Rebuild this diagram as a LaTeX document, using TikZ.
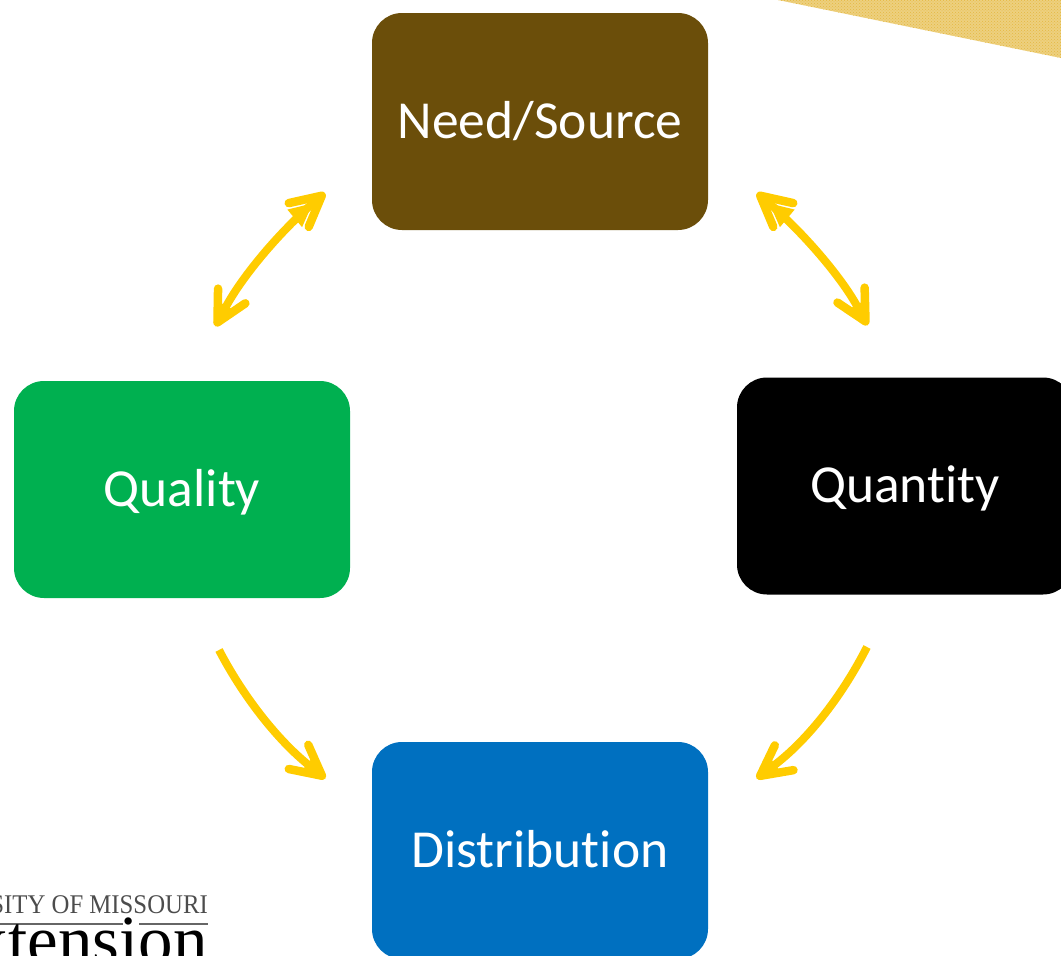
\documentclass[tikz,border=0pt]{standalone}
\usepackage{fontspec}
\setmainfont{Carlito}[Ligatures=NoCommon,Contextuals=NoAlternate]
\newfontfamily\logofont{Liberation Serif}
\usetikzlibrary{arrows.meta,patterns}
\definecolor{goldarrow}{HTML}{FFCC00}
\definecolor{needc}{HTML}{6B4E0A}
\definecolor{qualc}{HTML}{00B050}
\definecolor{distc}{HTML}{0070C0}
\definecolor{wedgea}{HTML}{EDD07F}
\definecolor{wedgeb}{HTML}{E5B840}
\tikzset{
  stagebox/.style={draw=none,rounded corners=30pt,minimum width=336pt,minimum height=217pt,inner sep=0pt,text=white,text height=33pt,text depth=0pt,font=\fontsize{53.5}{56}\selectfont},
  headstart/.tip={Triangle[length=24pt,width=21pt,sep=-23pt]Straight Barb[length=30pt,width=31pt,line width=8.5pt,round]},
  headend/.tip={Straight Barb[length=30pt,width=31pt,line width=8.5pt,round,sep=-23pt]Triangle[length=24pt,width=21pt]},
  cyclearrow/.style={draw=goldarrow,line width=8pt,{headstart}-{headend}},
  onearrow/.style={draw=goldarrow,line width=8pt,-{headend}},
}
\begin{document}
\begin{tikzpicture}[x=1pt,y=-1pt]
\useasboundingbox (0,0) rectangle (1061,956);
\begin{scope}
\clip (0,0) rectangle (1061,956);
\fill[wedgea] (778,0) -- (1061,58) -- (1061,0) -- cycle;
\fill[pattern=crosshatch dots,pattern color=wedgeb] (778,0) -- (1061,58) -- (1061,0) -- cycle;
\node[stagebox,fill=needc] (need) at (540,121.5) {Need/Source};
\node[stagebox,fill=qualc] (qual) at (182,489.5) {Quality};
\node[stagebox,fill=black] (quan) at (905,486) {Quantity};
\node[stagebox,fill=distc] (dist) at (540,850.5) {Distribution};
\coordinate (nq1) at (325,193);
\coordinate (nq2) at (215,327);
\coordinate (nr1) at (757,193);
\coordinate (nr2) at (868,326);
\coordinate (qd1) at (219,650);
\coordinate (qd2) at (326,779);
\coordinate (rd1) at (867,647);
\coordinate (rd2) at (756,779);
\draw[cyclearrow] (nq1) .. controls (282,229) and (243,275) .. (nq2);
\draw[cyclearrow] (nr1) .. controls (800,229) and (840,275) .. (nr2);
\draw[onearrow] (qd1) .. controls (245,700) and (280,742) .. (qd2);
\draw[onearrow] (rd1) .. controls (840,700) and (805,742) .. (rd2);
\node[anchor=base east,inner sep=0pt,font=\logofont\fontsize{27}{28}\selectfont,text=black!70] (logoa) at (208,913.5) {\scalebox{0.917}[1]{SITY OF MISSOURI}};
\draw[black!60,line width=2pt] (0,923.5) -- (123,923.5);
\draw[black!60,line width=2pt] (139,923.5) -- (208,923.5);
\node[anchor=base east,inner sep=0pt,font=\logofont\fontsize{69}{70}\selectfont,text=black] (logob) at (208,963.5) {xtension};
\end{scope}
\end{tikzpicture}
\end{document}
